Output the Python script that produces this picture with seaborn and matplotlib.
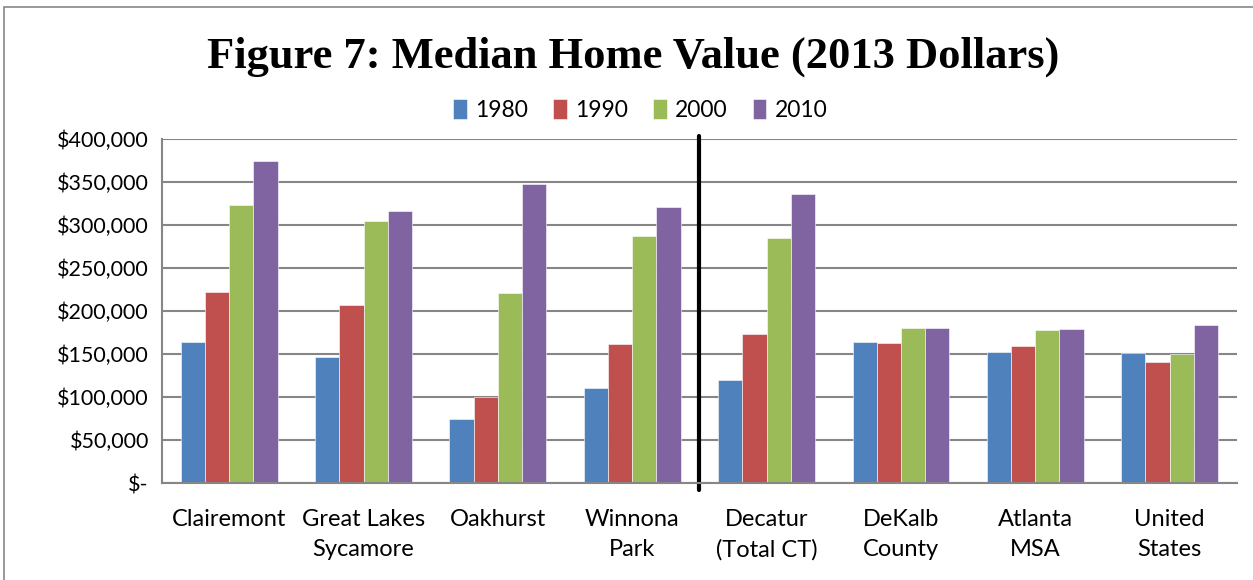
import pandas as pd
import numpy as np
import matplotlib
matplotlib.use('Agg')
import matplotlib.pyplot as plt
import seaborn as sns
from matplotlib.ticker import FuncFormatter, FixedLocator

# Data (2013 dollars)
places = ['Clairemont', 'Great Lakes\nSycamore', 'Oakhurst', 'Winnona\nPark',
          'Decatur\n(Total CT)', 'DeKalb\nCounty', 'Atlanta\nMSA', 'United\nStates']
years = ['1980', '1990', '2000', '2010']
v1980 = [164000, 146500, 74500, 110500, 120000, 164000, 152500, 151000]
v1990 = [222000, 207000, 99500, 161500, 173000, 163000, 159500, 140500]
v2000 = [323000, 305000, 221500, 287500, 285000, 180000, 178500, 150500]
v2010 = [374500, 316500, 347500, 321500, 336000, 180000, 179500, 183500]
colors = ['#4F81BD', '#C0504D', '#9BBB59', '#8064A2']

df = pd.DataFrame({'place': places, '1980': v1980, '1990': v1990,
                   '2000': v2000, '2010': v2010})
long_df = df.melt(id_vars='place', var_name='year', value_name='value')

sns.set_style("white")
plt.rcParams['font.family'] = ['Lato', 'DejaVu Sans']
plt.rcParams['text.color'] = 'black'
plt.rcParams['xtick.color'] = 'black'
plt.rcParams['ytick.color'] = 'black'

fig = plt.figure(figsize=(12.53, 5.8), dpi=100)
ax = fig.add_axes([0.1293, 0.1672, 0.8577, 0.5931])

sns.barplot(data=long_df, x='place', y='value', hue='year', hue_order=years,
            palette=colors, saturation=1, width=0.72, gap=0, ax=ax, legend=True,
            edgecolor='white', linewidth=0.4)

ax.set_ylim(0, 400000)
ax.set_xlim(-0.5, len(places) - 0.5)
ax.yaxis.set_major_locator(FixedLocator(np.arange(0, 400001, 50000)))
ax.yaxis.set_major_formatter(FuncFormatter(lambda v, p: '$-' if v == 0 else f'${v:,.0f}'))
ax.grid(axis='y', color='#868686', linewidth=1.5)
ax.set_axisbelow(True)
ax.set_xlabel('')
ax.set_ylabel('')

for s in ['top', 'right']:
    ax.spines[s].set_visible(False)
for s in ['left', 'bottom']:
    ax.spines[s].set_color('#868686')
    ax.spines[s].set_linewidth(1.5)

# category separators as ticks below the axis
ax.set_xticks(np.arange(-0.5, len(places), 1.0), minor=True)
ax.tick_params(axis='x', which='minor', length=8, width=1.5, color='#868686', direction='out')
ax.tick_params(axis='x', which='major', length=0, labelsize=17, pad=19)
ax.tick_params(axis='y', which='major', length=6, width=1.5, color='#868686',
               labelcolor='black', direction='out', labelsize=15.5)
for lab in ax.get_xticklabels():
    lab.set_linespacing(1.5)

# divider between neighbourhoods and comparison areas
ax.axvline(3.5, ymin=-0.02, ymax=1.008, color='black', linewidth=3, clip_on=False)

handles, labels = ax.get_legend_handles_labels()
ax.legend_.remove()
fig.legend(handles, labels, loc='center', bbox_to_anchor=(0.511, 0.81), ncol=4,
           frameon=False, fontsize=16.5, handlelength=0.6, handleheight=0.9,
           handletextpad=0.35, columnspacing=1.1)

fig.text(0.505, 0.902, 'Figure 7: Median Home Value (2013 Dollars)',
         ha='center', va='center', fontsize=32, fontweight='bold', color='black',
         family=['Liberation Serif', 'DejaVu Serif'])

# thin frame around the whole chart
fig.patches.append(plt.Rectangle((0.003, -0.01), 1.2, 0.998, transform=fig.transFigure,
                                 fill=False, edgecolor='#868686', linewidth=1.2))

fig.savefig('out.png', dpi=100)
